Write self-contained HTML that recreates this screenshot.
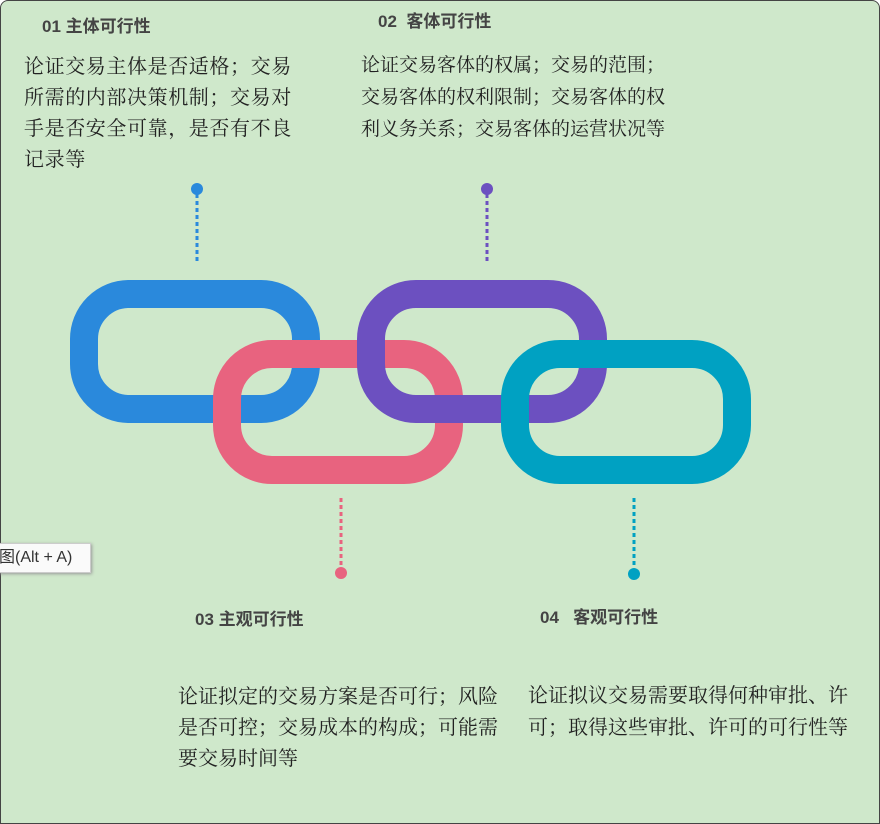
<!DOCTYPE html>
<html><head><meta charset="utf-8"><style>
body{margin:0;width:880px;height:823px;overflow:hidden;background:#fff;font-family:"Liberation Sans","Noto Sans CJK SC",sans-serif;}
.bg{position:absolute;left:0;top:0;width:878px;height:822px;background:#cfe8cb;border:1px solid #444;border-radius:8px 8px 0 0;}
.t{position:absolute;font-weight:bold;font-size:17px;color:#444;white-space:nowrap}
.p{position:absolute;font-family:"Liberation Serif","Noto Serif CJK SC",serif;font-size:20px;line-height:32px;color:#222;white-space:nowrap}
.tip{position:absolute;left:-2px;top:543px;width:91px;height:28px;background:#fafafa;border:1px solid #ccc;box-shadow:1px 1px 3px #999;font-size:16px;line-height:28px;color:#333;}
</style></head><body>
<div class="bg"></div>
<div class="t" style="left:42px;top:12px">01 主体可行性</div>
<div class="t" style="left:378px;top:7px">02&nbsp; 客体可行性</div>
<div class="t" style="left:195px;top:605px">03 主观可行性</div>
<div class="t" style="left:540px;top:603px">04&nbsp;&nbsp; 客观可行性</div>
<div class="p" style="left:24px;top:52px;letter-spacing:0.6px;line-height:31px">论证交易主体是否适格；交易<br>所需的内部决策机制；交易对<br>手是否安全可靠，是否有不良<br>记录等</div>
<div class="p" style="left:361px;top:50px;font-size:19px">论证交易客体的权属；交易的范围；<br>交易客体的权利限制；交易客体的权<br>利义务关系；交易客体的运营状况等</div>
<div class="p" style="left:178px;top:682px;line-height:31px">论证拟定的交易方案是否可行；风险<br>是否可控；交易成本的构成；可能需<br>要交易时间等</div>
<div class="p" style="left:528px;top:680px">论证拟议交易需要取得何种审批、许<br>可；取得这些审批、许可的可行性等</div>
<svg width="880" height="823" style="position:absolute;left:0;top:0">
<g fill="none" stroke-width="28">
<rect x="84" y="294" width="222" height="115" rx="45" stroke="#2a89dc"/>
<rect x="227" y="354" width="222" height="116" rx="45" stroke="#e8637f"/>
<rect x="371" y="294" width="222" height="115" rx="45" stroke="#6c50c0"/>
<rect x="515" y="354" width="222" height="116" rx="45" stroke="#00a1c2"/>
</g>
<g stroke-width="3" stroke-dasharray="4,3">
<line x1="197" y1="194" x2="197" y2="264" stroke="#2a89dc"/>
<line x1="487" y1="194" x2="487" y2="264" stroke="#6c50c0"/>
<line x1="341" y1="498" x2="341" y2="568" stroke="#e8637f"/>
<line x1="634" y1="498" x2="634" y2="568" stroke="#00a1c2"/>
</g>
<circle cx="197" cy="189" r="6" fill="#2a89dc"/>
<circle cx="487" cy="189" r="6" fill="#6c50c0"/>
<circle cx="341" cy="573" r="6" fill="#e8637f"/>
<circle cx="634" cy="574" r="6" fill="#00a1c2"/>
</svg>
<div class="tip">图(Alt + A)</div>
</body></html>
